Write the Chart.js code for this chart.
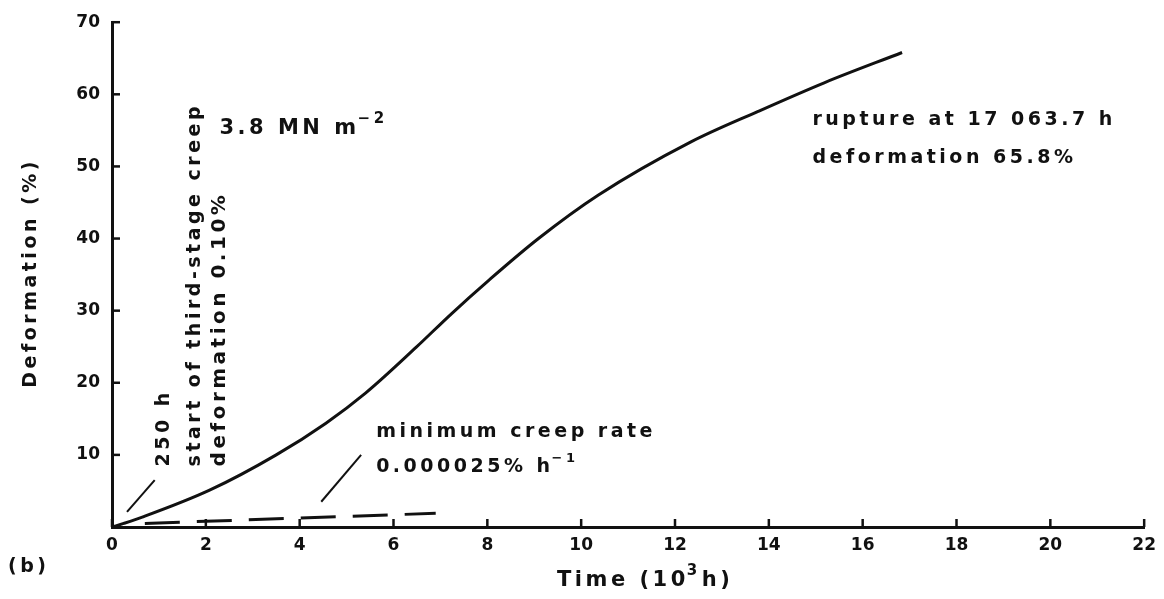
<!DOCTYPE html>
<html>
<head>
<meta charset="utf-8">
<script src="https://cdn.jsdelivr.net/npm/chart.js@4.4.0/dist/chart.umd.min.js"></script>
<style>
  html, body { margin: 0; padding: 0; background: #fff; }
  #wrap { width: 1164px; height: 599px; }
</style>
</head>
<body>
<div id="wrap"><canvas id="chart"></canvas></div>
<script>
// creep curve, time in 10^3 h, deformation in %
const timeK = [0, 0.25, 0.66, 2.08, 3.5, 4.56, 5.41, 6.48, 7.24, 8.03, 9.09, 10.36, 12.34, 13.76, 15.18, 16.84];
const deformation = [0, 0.5, 1.4, 5.1, 10.0, 14.4, 18.6, 24.9, 29.6, 34.2, 40.0, 46.0, 53.4, 57.6, 61.6, 65.8];

// minimum creep rate (dashed)
const rateTime = [0.7, 6.9];
const rateDef = [0.5, 1.9];

// leader lines
const leader250Time = [0.32, 0.91];
const leader250Def = [2.1, 6.5];
const leaderRateTime = [4.46, 5.31];
const leaderRateDef = [3.5, 10.0];

const xTicks = [0, 2, 4, 6, 8, 10, 12, 14, 16, 18, 20, 22];
const yTicks = [10, 20, 30, 40, 50, 60, 70];

function pts(xs, ys) {
    return xs.map(function(x, i) { return { x: x, y: ys[i] }; });
}

const INK = '#111';
const FONT = '"DejaVu Sans", sans-serif';
const GAP = 3.5; // extra space between letters

// inward tick marks, axis titles and text notes
const notes = {
    id: 'notes',
    afterDraw: function(chart) {
        const ctx = chart.ctx;
        const xs = chart.scales.x;
        const ys = chart.scales.y;
        const area = chart.chartArea;
        ctx.save();
        ctx.strokeStyle = INK;
        ctx.lineWidth = 2.5;
        xTicks.forEach(function(v) {
            const px = xs.getPixelForValue(v);
            ctx.beginPath();
            ctx.moveTo(px, area.bottom);
            ctx.lineTo(px, area.bottom - 8);
            ctx.stroke();
        });
        yTicks.forEach(function(v) {
            const py = ys.getPixelForValue(v);
            ctx.beginPath();
            ctx.moveTo(area.left, py);
            ctx.lineTo(area.left + 8, py);
            ctx.stroke();
        });

        ctx.fillStyle = INK;
        ctx.textBaseline = 'middle';
        ctx.textAlign = 'left';

        function f(size) { return 'bold ' + size + 'px ' + FONT; }
        // draw letter by letter with a wider pitch, returns end x
        function spaced(str, x, y, size) {
            ctx.font = f(size);
            for (const ch of str) {
                ctx.fillText(ch, x, y);
                x += ctx.measureText(ch).width + GAP;
            }
            return x;
        }
        function spacedWidth(str, size) {
            ctx.font = f(size);
            let w = 0;
            for (const ch of str) w += ctx.measureText(ch).width + GAP;
            return w - GAP;
        }
        function text(str, t, d, size) {
            spaced(str, xs.getPixelForValue(t), ys.getPixelForValue(d), size || 19);
        }
        function sup(base, power, x, y, size) {
            x = spaced(base, x, y, size);
            return spaced(power, x - 2, y - size * 0.45, Math.round(size * 0.7));
        }

        // stress
        sup('3.8 MN m', '\u22122', xs.getPixelForValue(2.29), ys.getPixelForValue(55.3), 21);

        // rupture note
        text('rupture at 17 063.7 h', 14.93, 56.4);
        text('deformation 65.8%', 14.93, 51.2);

        // minimum creep rate
        text('minimum creep rate', 5.63, 13.2);
        sup('0.000025% h', '\u22121', xs.getPixelForValue(5.63), ys.getPixelForValue(8.3), 19);

        // vertical note on third-stage creep
        const vx = [1.1, 1.76, 2.29];
        const vLines = ['250 h', 'start of third-stage creep', 'deformation 0.10%'];
        vLines.forEach(function(s, i) {
            ctx.save();
            ctx.translate(xs.getPixelForValue(vx[i]), ys.getPixelForValue(8.4));
            ctx.rotate(-Math.PI / 2);
            spaced(s, 0, 0, i === 2 ? 20 : 19);
            ctx.restore();
        });

        // axis titles
        ctx.save();
        ctx.translate(31, (area.top + area.bottom) / 2);
        ctx.rotate(-Math.PI / 2);
        const yt = 'Deformation (%)';
        spaced(yt, -spacedWidth(yt, 19) / 2, 0, 19);
        ctx.restore();

        let tx = sup('Time (10', '3', 557, 581, 21);
        spaced('h)', tx + 1, 581, 21);

        spaced('(b)', 8, 567, 19);
        ctx.restore();
    }
};

const ctx = document.getElementById('chart').getContext('2d');
const chart = new Chart(ctx, {
    type: 'line',
    data: {
        datasets: [
            {
                label: 'deformation',
                data: pts(timeK, deformation),
                borderColor: INK,
                borderWidth: 3,
                pointRadius: 0,
                cubicInterpolationMode: 'monotone',
                fill: false
            },
            {
                label: 'minimum creep rate',
                data: pts(rateTime, rateDef),
                borderColor: INK,
                borderWidth: 3,
                borderDash: [35, 17],
                pointRadius: 0,
                fill: false
            },
            {
                label: 'leader 250 h',
                data: pts(leader250Time, leader250Def),
                borderColor: INK,
                borderWidth: 2,
                pointRadius: 0,
                fill: false
            },
            {
                label: 'leader rate',
                data: pts(leaderRateTime, leaderRateDef),
                borderColor: INK,
                borderWidth: 2,
                pointRadius: 0,
                fill: false
            }
        ]
    },
    options: {
        responsive: true,
        maintainAspectRatio: false,
        animation: false,
        layout: { padding: { top: 22, right: 16, bottom: 0, left: 0 } },
        plugins: {
            legend: { display: false },
            tooltip: { enabled: false }
        },
        scales: {
            x: {
                type: 'linear',
                min: 0,
                max: 22,
                afterFit: function(scale) { scale.height = 72; },
                afterBuildTicks: function(scale) {
                    scale.ticks = xTicks.map(function(v) { return { value: v }; });
                },
                grid: { display: false, drawTicks: false },
                border: { display: true, color: INK, width: 3 },
                ticks: {
                    color: INK,
                    padding: 8,
                    font: { family: FONT, size: 17, weight: 'bold' }
                }
            },
            y: {
                type: 'linear',
                min: 0,
                max: 70,
                afterFit: function(scale) { scale.width = 112; },
                afterBuildTicks: function(scale) {
                    scale.ticks = yTicks.map(function(v) { return { value: v }; });
                },
                grid: { display: false, drawTicks: false },
                border: { display: true, color: INK, width: 3 },
                ticks: {
                    color: INK,
                    padding: 12,
                    font: { family: FONT, size: 17, weight: 'bold' }
                }
            }
        }
    },
    plugins: [notes]
});
</script>
</body>
</html>
